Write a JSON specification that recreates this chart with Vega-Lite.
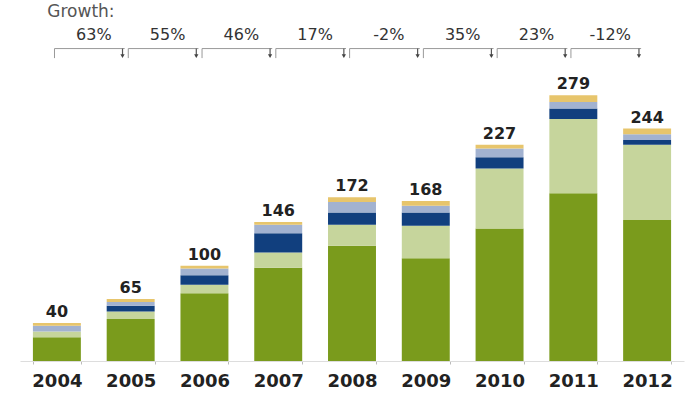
{
  "$schema": "https://vega.github.io/schema/vega-lite/v6.json",
  "width": 664,
  "height": 361,
  "autosize": "none",
  "padding": {"left": 20, "top": 0, "right": 16, "bottom": 32},
  "background": "white",
  "config": {"view": {"stroke": null}},
  "datasets": {
    "segments": [
      {"year": "2004", "segment": "S1", "value": 25}, {"year": "2004", "segment": "S2", "value": 6}, {"year": "2004", "segment": "S3", "value": 0}, {"year": "2004", "segment": "S4", "value": 6}, {"year": "2004", "segment": "S5", "value": 3},
      {"year": "2005", "segment": "S1", "value": 44}, {"year": "2005", "segment": "S2", "value": 8}, {"year": "2005", "segment": "S3", "value": 6}, {"year": "2005", "segment": "S4", "value": 4}, {"year": "2005", "segment": "S5", "value": 3},
      {"year": "2006", "segment": "S1", "value": 71}, {"year": "2006", "segment": "S2", "value": 9}, {"year": "2006", "segment": "S3", "value": 10}, {"year": "2006", "segment": "S4", "value": 7}, {"year": "2006", "segment": "S5", "value": 3},
      {"year": "2007", "segment": "S1", "value": 98}, {"year": "2007", "segment": "S2", "value": 16}, {"year": "2007", "segment": "S3", "value": 20}, {"year": "2007", "segment": "S4", "value": 9}, {"year": "2007", "segment": "S5", "value": 3},
      {"year": "2008", "segment": "S1", "value": 121}, {"year": "2008", "segment": "S2", "value": 22}, {"year": "2008", "segment": "S3", "value": 13}, {"year": "2008", "segment": "S4", "value": 11}, {"year": "2008", "segment": "S5", "value": 5},
      {"year": "2009", "segment": "S1", "value": 108}, {"year": "2009", "segment": "S2", "value": 34}, {"year": "2009", "segment": "S3", "value": 14}, {"year": "2009", "segment": "S4", "value": 7}, {"year": "2009", "segment": "S5", "value": 5},
      {"year": "2010", "segment": "S1", "value": 139}, {"year": "2010", "segment": "S2", "value": 63}, {"year": "2010", "segment": "S3", "value": 12}, {"year": "2010", "segment": "S4", "value": 9}, {"year": "2010", "segment": "S5", "value": 4},
      {"year": "2011", "segment": "S1", "value": 176}, {"year": "2011", "segment": "S2", "value": 78}, {"year": "2011", "segment": "S3", "value": 11}, {"year": "2011", "segment": "S4", "value": 7}, {"year": "2011", "segment": "S5", "value": 7},
      {"year": "2012", "segment": "S1", "value": 148}, {"year": "2012", "segment": "S2", "value": 79}, {"year": "2012", "segment": "S3", "value": 5}, {"year": "2012", "segment": "S4", "value": 6}, {"year": "2012", "segment": "S5", "value": 6}
    ],
    "totals": [
      {"year": "2004", "total": 40}, {"year": "2005", "total": 65}, {"year": "2006", "total": 100},
      {"year": "2007", "total": 146}, {"year": "2008", "total": 172}, {"year": "2009", "total": 168},
      {"year": "2010", "total": 227}, {"year": "2011", "total": 279}, {"year": "2012", "total": 244}
    ],
    "growth": [
      {"from": "2004", "to": "2005", "label": "63%"},
      {"from": "2005", "to": "2006", "label": "55%"},
      {"from": "2006", "to": "2007", "label": "46%"},
      {"from": "2007", "to": "2008", "label": "17%"},
      {"from": "2008", "to": "2009", "label": "-2%"},
      {"from": "2009", "to": "2010", "label": "35%"},
      {"from": "2010", "to": "2011", "label": "23%"},
      {"from": "2011", "to": "2012", "label": "-12%"}
    ],
    "title": [{"year": "2004", "text": "Growth:"}]
  },
  "layer": [
    {
      "data": {"name": "segments"},
      "mark": {"type": "bar"},
      "encoding": {
        "x": {
          "field": "year", "type": "nominal", "title": null,
          "scale": {"paddingInner": 0.35, "paddingOuter": 0.175},
          "axis": {
            "labelAngle": 0, "labelFont": "DejaVu Sans", "labelFontSize": 18, "labelFontWeight": "bold",
            "labelColor": "#222222", "labelPadding": 8, "domainColor": "#dddddd", "tickColor": "#bbbbbb",
            "tickSize": 3, "tickBand": "extent", "grid": false
          }
        },
        "y": {
          "field": "value", "type": "quantitative", "stack": "zero",
          "scale": {"domain": [0, 379], "nice": false, "zero": true},
          "axis": null
        },
        "color": {
          "field": "segment", "type": "nominal", "legend": null,
          "scale": {"domain": ["S1", "S2", "S3", "S4", "S5"], "range": ["#7a9b1c", "#c6d59c", "#113f7e", "#a2b2d0", "#e7c56c"]}
        },
        "order": {"field": "segment", "sort": "ascending"}
      }
    },
    {
      "data": {"name": "totals"},
      "mark": {"type": "text", "font": "DejaVu Sans", "fontSize": 16, "fontWeight": "bold", "color": "#222222", "baseline": "alphabetic", "dy": -6},
      "encoding": {
        "x": {"field": "year", "type": "nominal"},
        "y": {"field": "total", "type": "quantitative"},
        "text": {"field": "total", "type": "quantitative"}
      }
    },
    {
      "data": {"name": "growth"},
      "mark": {"type": "text", "font": "DejaVu Sans", "fontSize": 16, "color": "#333333", "baseline": "middle"},
      "encoding": {
        "x": {"field": "from", "type": "nominal", "bandPosition": 1.27},
        "y": {"datum": 342, "type": "quantitative"},
        "text": {"field": "label", "type": "nominal"}
      }
    },
    {
      "data": {"name": "growth"},
      "mark": {"type": "rule", "color": "#999999", "strokeWidth": 1, "x2Offset": -6},
      "encoding": {
        "x": {"field": "from", "type": "nominal", "bandPosition": 0.45},
        "x2": {"field": "to"},
        "y": {"datum": 328, "type": "quantitative"}
      }
    },
    {
      "data": {"name": "growth"},
      "mark": {"type": "rule", "color": "#999999", "strokeWidth": 1},
      "encoding": {
        "x": {"field": "from", "type": "nominal", "bandPosition": 0.45},
        "y": {"datum": 328, "type": "quantitative"},
        "y2": {"datum": 318}
      }
    },
    {
      "data": {"name": "growth"},
      "mark": {"type": "rule", "color": "#555555", "strokeWidth": 1.2},
      "encoding": {
        "x": {"field": "to", "type": "nominal", "bandPosition": 0.33},
        "y": {"datum": 328, "type": "quantitative"},
        "y2": {"datum": 320}
      }
    },
    {
      "data": {"name": "growth"},
      "mark": {"type": "point", "shape": "triangle-down", "filled": true, "color": "#444444", "size": 18, "opacity": 1},
      "encoding": {
        "x": {"field": "to", "type": "nominal", "bandPosition": 0.33},
        "y": {"datum": 320, "type": "quantitative"}
      }
    },
    {
      "data": {"name": "title"},
      "mark": {"type": "text", "font": "DejaVu Sans", "fontSize": 17, "color": "#555555", "align": "left", "baseline": "middle"},
      "encoding": {
        "x": {"field": "year", "type": "nominal", "bandPosition": 0.3},
        "y": {"datum": 366, "type": "quantitative"},
        "text": {"field": "text", "type": "nominal"}
      }
    }
  ]
}
